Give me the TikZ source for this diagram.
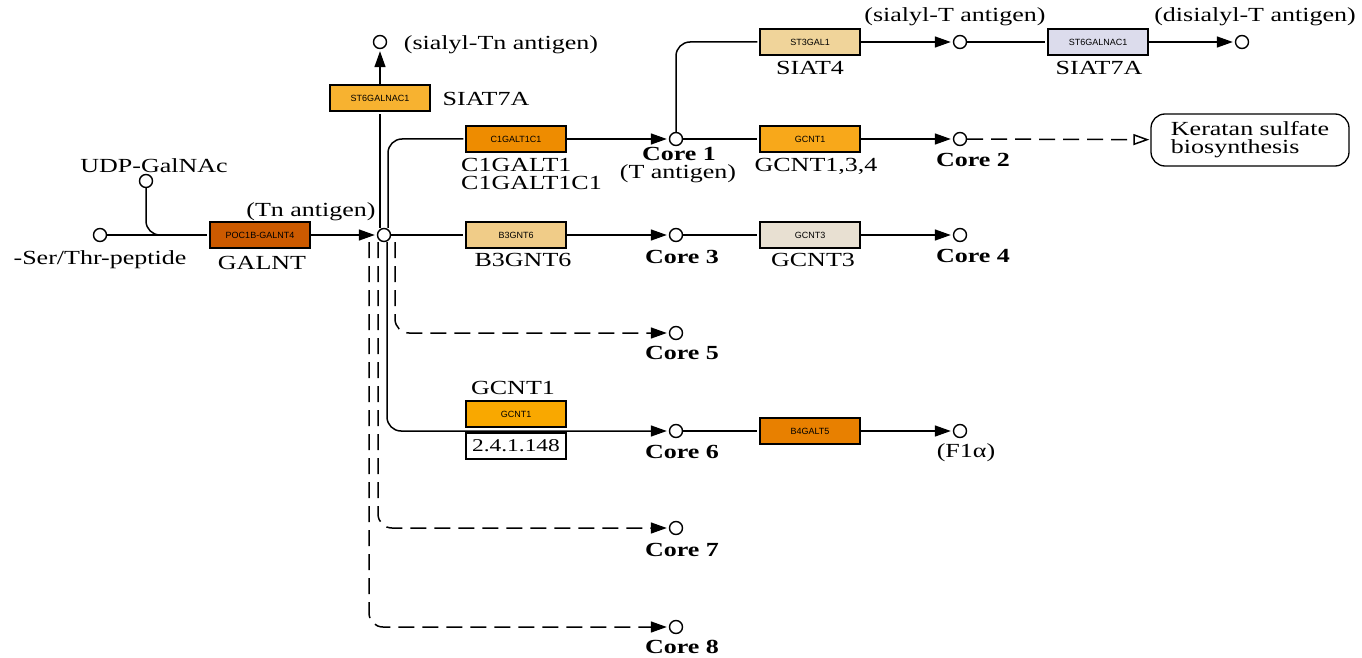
\documentclass[tikz,border=0pt]{standalone}
\usepackage{fontspec}
\setmainfont{Liberation Serif}[FakeStretch=1.3]
\newfontfamily\genefont{Liberation Sans}
\usetikzlibrary{arrows.meta,positioning}
\definecolor{galntc}{HTML}{CC5A00}
\definecolor{siatleft}{HTML}{F7B230}
\definecolor{c1galtc}{HTML}{EE8C00}
\definecolor{st3galc}{HTML}{F0D49A}
\definecolor{siatright}{HTML}{DCDCEC}
\definecolor{gcnttop}{HTML}{F8A81A}
\definecolor{b3gntc}{HTML}{F0CC88}
\definecolor{gcntthree}{HTML}{E8E0D2}
\definecolor{gcntlow}{HTML}{F9A800}
\definecolor{b4galtc}{HTML}{E88000}
\begin{document}
\begin{tikzpicture}[x=1pt,y=-1pt,
  >={Triangle[length=16pt,width=11pt]},
  cpd/.style={draw,circle,line width=1.4pt,inner sep=0pt,minimum size=13pt,fill=white},
  gene/.style={draw,line width=1.3pt,minimum width=100pt,minimum height=26pt,inner sep=0pt,
    font=\genefont\fontsize{9}{10}\selectfont},
  lbl/.style={inner sep=0pt,font=\fontsize{20}{18}\selectfont},
  core/.style={inner sep=0pt,font=\bfseries\fontsize{20}{18}\selectfont},
  rxn/.style={line width=1.5pt,shorten >=2pt},
  hint/.style={rxn,dash pattern=on 16pt off 8pt},
  elbow/.style={rounded corners=14pt}]
\useasboundingbox (0,0) rectangle (1362,658);

% compounds
\node[cpd] (pep) at (100,235) {};
\node[cpd] (udp) at (146,181) {};
\node[cpd] (tn) at (384,235) {};
\node[cpd] (stn) at (380,42) {};
\node[cpd] (c1) at (676,139) {};
\node[cpd] (st) at (960,42) {};
\node[cpd] (dst) at (1242,42) {};
\node[cpd] (c2) at (960,139) {};
\node[cpd] (c3) at (676,235) {};
\node[cpd] (c4) at (960,235) {};
\node[cpd] (c5) at (676,333) {};
\node[cpd] (c6) at (676,431) {};
\node[cpd] (f1a) at (960,431) {};
\node[cpd] (c7) at (676,528) {};
\node[cpd] (c8) at (676,627) {};
\coordinate (join) at (172,235);

% enzymes
\node[gene,fill=galntc] (galnt) at (260,235) {POC1B-GALNT4};
\node[gene,fill=siatleft] (siat7a) at (380,98) {ST6GALNAC1};
\node[gene,fill=c1galtc] (c1galt) at (516,139) {C1GALT1C1};
\node[gene,fill=st3galc] (st3gal) at (810,42) {ST3GAL1};
\node[gene,fill=siatright] (siat7b) at (1098,42) {ST6GALNAC1};
\node[gene,fill=gcnttop] (gcnt134) at (810,139) {GCNT1};
\node[gene,fill=b3gntc] (b3gnt6) at (516,235) {B3GNT6};
\node[gene,fill=gcntthree] (gcnt3) at (810,235) {GCNT3};
\node[gene,fill=gcntlow] (gcnt1) at (516,414) {GCNT1};
\node[draw,line width=1.3pt,minimum width=100pt,minimum height=26pt,inner sep=0pt,
  font=\fontsize{18}{18}\selectfont] (ec) at (516,446) {2.4.1.148};
\node[gene,fill=b4galtc] (b4galt5) at (810,431) {B4GALT5};
\node[draw,line width=1.3pt,rounded corners=14pt,minimum width=198pt,minimum height=52pt,
  align=left,lbl] (ks) at (1250,140) {Keratan sulfate\\biosynthesis};

% reactions
\draw[rxn] (pep) -- (galnt);
\draw[rxn,elbow] (udp.south) |- (join);
\draw[rxn,->] (galnt) -- (tn);
\draw[rxn] ([xshift=-4pt]tn.north) -- (siat7a);
\draw[rxn,->] (siat7a) -- (stn);
\draw[rxn,elbow] ([xshift=4pt]tn.north) |- (c1galt);
\draw[rxn,->] (c1galt) -- (c1);
\draw[rxn,elbow] (c1.north) |- (st3gal);
\draw[rxn,->] (st3gal) -- (st);
\draw[rxn] (st) -- (siat7b);
\draw[rxn,->] (siat7b) -- (dst);
\draw[rxn] (c1) -- (gcnt134);
\draw[rxn,->] (gcnt134) -- (c2);
\draw[hint,-{Triangle[open,length=16pt,width=11pt]},shorten >=1pt] (c2) -- (ks);
\draw[rxn] (tn) -- (b3gnt6);
\draw[rxn,->] (b3gnt6) -- (c3);
\draw[rxn] (c3) -- (gcnt3);
\draw[rxn,->] (gcnt3) -- (c4);
\draw[hint,->,elbow] ([xshift=11pt]tn.south) |- (c5);
\draw[rxn,->,elbow] ([xshift=3pt]tn.south) |- (c6);
\draw[hint,->,elbow] ([xshift=-6pt]tn.south) |- (c7);
\draw[hint,->,elbow] ([xshift=-15pt]tn.south) |- (c8);
\draw[rxn] (c6) -- (b4galt5);
\draw[rxn,->] (b4galt5) -- (f1a);

% labels
\node[lbl] (udplbl) at (154,166) {UDP-GalNAc};
\node[lbl] (peplbl) at (100,260) {-Ser/Thr-peptide};
\node[lbl] (galntlbl) at (262,263) {GALNT};
\node[lbl] (tnlbl) at (311,212) {(Tn antigen)};
\node[lbl] (stnlbl) at (501,45) {(sialyl-Tn antigen)};
\node[lbl] (siat7albl) at (486,99) {SIAT7A};
\node[lbl,align=left,anchor=west] (c1galtlbl) at (461,174) {C1GALT1\\C1GALT1C1};
\node[core] (c1lbl) at (679,154) {Core 1};
\node[lbl] (tlbl) at (678,174) {(T antigen)};
\node[lbl] (st3gallbl) at (810,68) {SIAT4};
\node[lbl] (stlbl) at (955,17) {(sialyl-T antigen)};
\node[lbl] (siat7blbl) at (1099,68) {SIAT7A};
\node[lbl] (dstlbl) at (1255,17) {(disialyl-T antigen)};
\node[lbl] (gcnt134lbl) at (816,166) {GCNT1,3,4};
\node[core] (c2lbl) at (973,160) {Core 2};
\node[lbl] (b3gnt6lbl) at (523,260) {B3GNT6};
\node[core] (c3lbl) at (682,257) {Core 3};
\node[lbl] (gcnt3lbl) at (813,260) {GCNT3};
\node[core] (c4lbl) at (973,256) {Core 4};
\node[core] (c5lbl) at (682,353) {Core 5};
\node[lbl] (gcnt1lbl) at (513,388) {GCNT1};
\node[core] (c6lbl) at (682,452) {Core 6};
\node[lbl] (f1albl) at (966,453) {(F1α)};
\node[core] (c7lbl) at (682,550) {Core 7};
\node[core] (c8lbl) at (682,647) {Core 8};
\end{tikzpicture}
\end{document}
